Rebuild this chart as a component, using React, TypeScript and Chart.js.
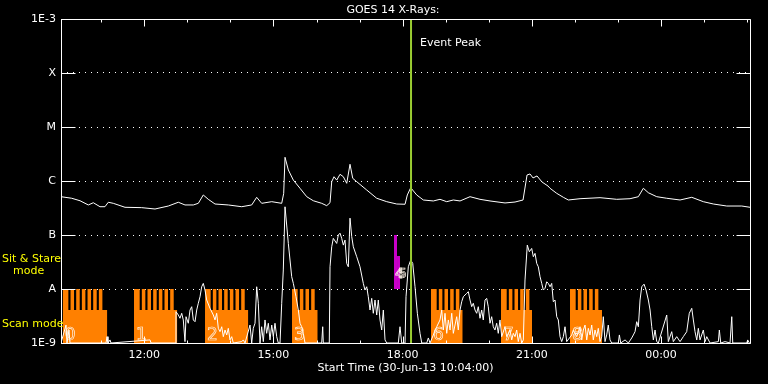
import React, { useEffect, useRef } from "react";
import { Chart, registerables } from "chart.js";
Chart.register(...registerables);

// time axis: clock hours (values > 24 are the next day)
const START = 10 + 4 / 60; // 10:04
const END = START + 16;
const HOUR_TICKS = [12, 15, 18, 21, 24];
const FLUX_TICKS = [1e-9, 1e-8, 1e-7, 1e-6, 1e-5, 1e-4, 1e-3];
const FLUX_LABELS = ["1E-9", "A", "B", "C", "M", "X", "1E-3"];
const EVENT_PEAK = 18.195;

// GOES long channel (1-8 Å) [hour, W/m²]
const LONG: [number, number][] = [
  [10.067, 5.12e-7], [10.315, 4.79e-7], [10.508, 4.31e-7], [10.701, 3.6e-7], [10.817, 3.96e-7],
  [10.972, 3.34e-7], [11.088, 3.34e-7], [11.165, 4.04e-7], [11.281, 3.86e-7], [11.553, 3.26e-7],
  [11.941, 3.21e-7], [12.25, 3.03e-7], [12.559, 3.44e-7], [12.791, 4.04e-7], [12.946, 3.6e-7],
  [13.139, 3.6e-7], [13.255, 3.86e-7], [13.371, 5.51e-7], [13.487, 4.58e-7], [13.643, 3.75e-7],
  [13.952, 3.6e-7], [14.263, 3.34e-7], [14.495, 3.6e-7], [14.611, 4.99e-7], [14.727, 3.86e-7],
  [14.96, 4.14e-7], [15.192, 3.86e-7], [15.238, 5.91e-7], [15.269, 2.75e-6], [15.346, 1.6e-6],
  [15.462, 1.04e-6], [15.617, 7.33e-7], [15.773, 5.12e-7], [15.926, 4.31e-7], [16.121, 3.86e-7],
  [16.237, 3.49e-7], [16.314, 3.96e-7], [16.353, 9.7e-7], [16.407, 1.2e-6], [16.469, 1.04e-6],
  [16.546, 1.33e-6], [16.623, 1.2e-6], [16.702, 9.06e-7], [16.778, 2.04e-6], [16.841, 1.12e-6],
  [16.934, 9.7e-7], [17.166, 6.81e-7], [17.398, 4.79e-7], [17.631, 4.14e-7], [17.863, 3.75e-7],
  [18.056, 3.71e-7], [18.109, 5.51e-7], [18.188, 7.52e-7], [18.327, 5.51e-7], [18.481, 4.45e-7],
  [18.713, 4.27e-7], [18.868, 4.58e-7], [19.024, 4.14e-7], [19.177, 4.45e-7], [19.333, 4.27e-7],
  [19.565, 5.12e-7], [19.797, 4.58e-7], [20.029, 4.27e-7], [20.378, 3.92e-7], [20.61, 4.08e-7],
  [20.796, 4.45e-7], [20.889, 1.29e-6], [20.958, 1.35e-6], [21.028, 1.14e-6], [21.121, 1.24e-6],
  [21.237, 9.57e-7], [21.376, 8.07e-7], [21.423, 7.33e-7], [21.578, 5.91e-7], [21.732, 4.99e-7],
  [21.848, 4.45e-7], [22.12, 4.7e-7], [22.584, 4.91e-7], [22.972, 4.58e-7], [23.281, 4.7e-7],
  [23.474, 5.12e-7], [23.59, 7.33e-7], [23.706, 6.06e-7], [23.901, 5.12e-7], [24.133, 4.79e-7],
  [24.442, 4.45e-7], [24.714, 4.99e-7], [24.983, 4.14e-7], [25.216, 3.75e-7], [25.527, 3.44e-7],
  [25.875, 3.44e-7], [26.067, 3.26e-7],
];

// GOES short channel (0.5-4 Å) [hour, W/m²]
const SHORT: [number, number][] = [
  [10.067, 1e-9], [10.183, 2.15e-9], [10.206, 1e-9], [10.252, 1.74e-9], [10.276, 1e-9],
  [11.112, 1e-9], [11.135, 1.31e-9], [11.158, 1e-9], [11.205, 1.14e-9], [11.228, 1e-9],
  [12.134, 1.14e-9], [12.157, 1e-9], [12.714, 1e-9], [12.737, 3.8e-9], [12.791, 3.3e-9],
  [12.83, 2.87e-9], [12.87, 3.55e-9], [12.907, 2.67e-9], [12.946, 1.06e-9], [12.97, 3.07e-9],
  [13.023, 2.32e-9], [13.063, 4.08e-9], [13.102, 4.7e-9], [13.139, 2.67e-9], [13.179, 2.48e-9],
  [13.218, 4.08e-9], [13.255, 5.44e-9], [13.295, 7.19e-9], [13.334, 1.1e-8], [13.371, 1.27e-8],
  [13.411, 9.57e-9], [13.45, 6.25e-9], [13.527, 4.39e-9], [13.604, 3.3e-9], [13.643, 2.67e-9],
  [13.682, 3.55e-9], [13.72, 1.87e-9], [13.759, 1.62e-9], [13.799, 2.0e-9], [13.836, 1.31e-9],
  [13.876, 1.74e-9], [13.915, 1.41e-9], [13.952, 1.87e-9], [13.991, 1.14e-9], [14.031, 1.31e-9],
  [14.068, 1e-9], [14.263, 1.06e-9], [14.3, 1.14e-9], [14.34, 1e-9], [14.456, 2.15e-9],
  [14.495, 1e-9], [14.532, 1.87e-9], [14.572, 2.32e-9], [14.611, 1.1e-8], [14.649, 5.44e-9],
  [14.688, 1e-9], [14.727, 2.0e-9], [14.765, 1.06e-9], [14.804, 2.67e-9], [14.843, 1.51e-9],
  [14.881, 2.32e-9], [14.92, 1.14e-9], [14.96, 2.15e-9], [14.997, 1.31e-9], [15.036, 2.32e-9],
  [15.076, 1.31e-9], [15.113, 1e-9], [15.153, 1e-9], [15.192, 5.44e-9], [15.229, 2.25e-8],
  [15.269, 3.33e-7], [15.346, 6.98e-8], [15.424, 1.69e-8], [15.462, 1.27e-8], [15.524, 7.19e-9],
  [15.578, 4.08e-9], [15.617, 2.32e-9], [15.656, 2.0e-9], [15.694, 1.51e-9], [15.733, 1e-9],
  [16.121, 1e-9], [16.144, 2.0e-9], [16.158, 1e-9], [16.297, 1e-9], [16.314, 2.58e-8],
  [16.353, 6.05e-8], [16.39, 8.67e-8], [16.469, 6.98e-8], [16.507, 1.0e-7], [16.546, 1.08e-7],
  [16.585, 8.67e-8], [16.623, 6.5e-8], [16.662, 8.05e-8], [16.702, 2.98e-8], [16.739, 2.58e-8],
  [16.778, 2.05e-7], [16.818, 9.31e-8], [16.855, 6.05e-8], [16.934, 3.96e-8], [17.01, 2.58e-8],
  [17.087, 1.27e-8], [17.126, 9.57e-9], [17.166, 1.1e-8], [17.203, 7.19e-9], [17.243, 4.08e-9],
  [17.282, 6.71e-9], [17.319, 3.55e-9], [17.359, 6.25e-9], [17.398, 3.3e-9], [17.435, 6.25e-9],
  [17.475, 2.67e-9], [17.514, 1.74e-9], [17.552, 4.08e-9], [17.591, 1.14e-9], [17.631, 1e-9],
  [17.9, 1e-9], [17.939, 2.0e-9], [17.979, 1e-9], [18.056, 1e-9], [18.079, 7.19e-9],
  [18.132, 2.58e-8], [18.188, 3.44e-8], [18.235, 2.98e-8], [18.288, 1.1e-8], [18.342, 3.55e-9],
  [18.404, 1.51e-9], [18.444, 1e-9], [18.56, 1e-9], [18.597, 1.24e-9], [18.636, 1e-9],
  [18.792, 2.0e-9], [18.868, 2.67e-9], [18.908, 4.08e-9], [18.945, 1.74e-9], [18.984, 3.55e-9],
  [19.024, 1.51e-9], [19.061, 2.67e-9], [19.101, 1.74e-9], [19.14, 3.55e-9], [19.177, 1.51e-9],
  [19.256, 3.07e-9], [19.293, 1.74e-9], [19.333, 4.08e-9], [19.372, 5.82e-9], [19.409, 7.19e-9],
  [19.449, 7.74e-9], [19.488, 8.3e-9], [19.525, 8.92e-9], [19.565, 6.25e-9], [19.604, 4.7e-9],
  [19.641, 5.44e-9], [19.681, 4.08e-9], [19.72, 3.55e-9], [19.757, 4.7e-9], [19.797, 2.87e-9],
  [19.836, 4.08e-9], [19.873, 2.67e-9], [19.913, 6.25e-9], [19.952, 6.71e-9], [19.989, 4.7e-9],
  [20.029, 2.32e-9], [20.068, 3.07e-9], [20.105, 2.0e-9], [20.145, 1.74e-9], [20.184, 2.32e-9],
  [20.221, 1.51e-9], [20.261, 2.67e-9], [20.3, 1.31e-9], [20.378, 2.0e-9], [20.417, 1.31e-9],
  [20.494, 1.74e-9], [20.533, 1.14e-9], [20.57, 1.51e-9], [20.61, 1.31e-9], [20.649, 1.74e-9],
  [20.686, 1.06e-9], [20.726, 1.51e-9], [20.765, 1e-9], [20.803, 1.14e-9], [20.842, 1.47e-8],
  [20.895, 6.5e-8], [20.942, 4.9e-8], [20.997, 5.64e-8], [21.035, 3.96e-8], [21.075, 4.57e-8],
  [21.114, 2.98e-8], [21.151, 2.58e-8], [21.191, 1.69e-8], [21.23, 1.27e-8], [21.267, 9.57e-9],
  [21.307, 1.03e-8], [21.346, 1.36e-8], [21.383, 1.27e-8], [21.423, 1.1e-8], [21.462, 1.27e-8],
  [21.499, 5.82e-9], [21.539, 6.25e-9], [21.578, 3.07e-9], [21.615, 2.67e-9], [21.655, 1.31e-9],
  [21.694, 1.06e-9], [21.732, 1.31e-9], [21.771, 2.0e-9], [21.81, 1.06e-9], [21.927, 1.41e-9],
  [21.964, 1.74e-9], [22.043, 1.31e-9], [22.12, 2.0e-9], [22.159, 1.14e-9], [22.196, 1.74e-9],
  [22.236, 2.15e-9], [22.275, 1.14e-9], [22.312, 1.87e-9], [22.352, 1.41e-9], [22.391, 2.15e-9],
  [22.428, 1.14e-9], [22.468, 1.74e-9], [22.507, 1.31e-9], [22.544, 1.87e-9], [22.584, 1.06e-9],
  [22.623, 1.31e-9], [22.66, 3.07e-9], [22.7, 1.06e-9], [22.739, 1.41e-9], [22.776, 2.15e-9],
  [22.816, 1.14e-9], [22.855, 1e-9], [23.009, 1e-9], [23.033, 1.41e-9], [23.065, 1e-9],
  [23.165, 1.14e-9], [23.242, 1e-9], [23.32, 1.24e-9], [23.358, 1.41e-9], [23.397, 1.62e-9],
  [23.436, 2.48e-9], [23.474, 2.0e-9], [23.513, 6.25e-9], [23.553, 1.1e-8], [23.606, 1.23e-8],
  [23.653, 9.57e-9], [23.706, 6.25e-9], [23.746, 4.08e-9], [23.785, 2.0e-9], [23.822, 1.14e-9],
  [23.862, 1.74e-9], [23.901, 1.06e-9], [23.938, 1e-9], [24.133, 3.3e-9], [24.17, 1.06e-9],
  [24.249, 1.62e-9], [24.286, 1.06e-9], [24.365, 1.31e-9], [24.442, 1.06e-9], [24.518, 1.31e-9],
  [24.597, 1.62e-9], [24.657, 3.55e-9], [24.714, 4.39e-9], [24.751, 2.67e-9], [24.79, 1.62e-9],
  [24.83, 1.14e-9], [24.867, 1.87e-9], [24.906, 1.14e-9], [24.983, 1.74e-9], [25.023, 1.06e-9],
  [25.062, 1.31e-9], [25.139, 1e-9], [25.332, 1.06e-9], [25.355, 1.74e-9], [25.387, 1e-9],
  [25.487, 1.06e-9], [25.603, 1e-9], [25.643, 3.07e-9], [25.666, 1e-9], [25.991, 1e-9],
  [26.014, 1.14e-9], [26.051, 1e-9],
];

// scan-mode blocks
const SCAN_START = [10.106, 11.762, 13.411, 15.431, 18.659, 20.285, 21.887];
const SCAN_END = [11.142, 12.767, 14.416, 16.028, 19.395, 21.005, 22.63];
const SCAN_STEPS = [7, 7, 7, 4, 5, 5, 5];
const SCAN_LABELS = ["0", "1", "2", "3", "6", "7", "8"];
const STEP_PERIOD = 0.1317;
const STEP_GAP = 0.05;
const SCAN_TOP = 1e-8;
const SCAN_BASE = 4.08e-9;
const FLOOR = 1e-9;

// sit & stare dwells
const STARE_START = [17.8, 17.87];
const STARE_END = [17.87, 17.939];
const STARE_PEAK = [1e-7, 4.08e-8];
const STARE_BASE = 1e-8;
const STARE_LABELS = ["4", "5"];

const FONT = '"DejaVu Sans", sans-serif';

function scanOutline(s: number, e: number, n: number) {
  const pts = [{ x: s, y: FLOOR }, { x: s, y: SCAN_TOP }];
  let t = s + STEP_PERIOD;
  for (let k = 1; k < n; k++) {
    pts.push({ x: t, y: SCAN_TOP }, { x: t, y: SCAN_BASE }, { x: t + STEP_GAP, y: SCAN_BASE }, { x: t + STEP_GAP, y: SCAN_TOP });
    t += STEP_PERIOD;
  }
  pts.push({ x: s + n * STEP_PERIOD, y: SCAN_TOP }, { x: s + n * STEP_PERIOD, y: SCAN_BASE }, { x: e, y: SCAN_BASE }, { x: e, y: FLOOR });
  return pts;
}

const decor = {
  id: "decor",
  afterDatasetsDraw(chart: any) {
    const { ctx, chartArea: a, scales } = chart;
    const xs = scales.x;
    const ys = scales.y;
    const L = Math.round(a.left) + 0.5;
    const R = Math.round(a.right) + 0.5;
    const T = Math.round(a.top) + 0.5;
    const B = Math.round(a.bottom) + 0.5;
    ctx.save();
    ctx.strokeStyle = "#fff";
    ctx.lineWidth = 1;
    ctx.beginPath();
    ctx.rect(L, T, R - L, B - T);
    FLUX_TICKS.forEach((v) => {
      const py = Math.round(ys.getPixelForValue(v)) + 0.5;
      ctx.moveTo(L, py); ctx.lineTo(L + 14, py);
      ctx.moveTo(R - 14, py); ctx.lineTo(R, py);
    });
    for (let h = Math.ceil(START); h <= END; h++) {
      const px = Math.round(xs.getPixelForValue(h)) + 0.5;
      const len = h % 3 === 0 ? 7 : 3;
      ctx.moveTo(px, T); ctx.lineTo(px, T + len);
      ctx.moveTo(px, B); ctx.lineTo(px, B - len);
    }
    ctx.stroke();

    // block numbers (outlined digits)
    ctx.font = `17px ${FONT}`;
    ctx.textAlign = "left";
    ctx.textBaseline = "alphabetic";
    ctx.lineWidth = 0.7;
    ctx.strokeStyle = "#fff4e8";
    SCAN_START.forEach((s, i) => {
      ctx.strokeText(SCAN_LABELS[i], xs.getPixelForValue(s) + 2, 340);
    });
    ctx.font = `14px ${FONT}`;
    STARE_START.forEach((s, i) => {
      ctx.strokeText(STARE_LABELS[i], xs.getPixelForValue(s) + 1, 278);
    });

    // texts
    ctx.fillStyle = "#fff";
    ctx.font = `11px ${FONT}`;
    ctx.textBaseline = "middle";
    ctx.textAlign = "center";
    ctx.fillText("GOES 14 X-Rays:", 393, 10);
    ctx.textAlign = "left";
    ctx.fillText("Event Peak", xs.getPixelForValue(EVENT_PEAK) + 9, 43);
    ctx.fillStyle = "#ffff00";
    ctx.fillText("Sit & Stare", 2, 259);
    ctx.fillText("mode", 13, 271);
    ctx.fillText("Scan mode", 2, 324);
    ctx.restore();
  },
};

export default function App() {
  const ref = useRef<HTMLCanvasElement | null>(null);
  useEffect(() => {
    if (!ref.current) return;
    const datasets: any[] = [
      {
        data: [{ x: EVENT_PEAK, y: 1e-9 }, { x: EVENT_PEAK, y: 1e-3 }],
        borderColor: "#9acd32", borderWidth: 2, pointRadius: 0, order: 0,
      },
      {
        data: LONG.map(([x, y]) => ({ x, y })),
        borderColor: "#ffffff", borderWidth: 1, pointRadius: 0, order: 1,
      },
      {
        data: SHORT.map(([x, y]) => ({ x, y })),
        borderColor: "#ffffff", borderWidth: 1, pointRadius: 0, order: 1,
      },
    ];
    STARE_START.forEach((s, i) => {
      datasets.push({
        data: [
          { x: s, y: STARE_BASE }, { x: s, y: STARE_PEAK[i] },
          { x: STARE_END[i], y: STARE_PEAK[i] }, { x: STARE_END[i], y: STARE_BASE },
        ],
        borderColor: "rgba(0,0,0,0)", borderWidth: 0, backgroundColor: "#c800c8",
        fill: { value: STARE_BASE }, pointRadius: 0, order: 2,
      });
    });
    SCAN_START.forEach((s, i) => {
      datasets.push({
        data: scanOutline(s, SCAN_END[i], SCAN_STEPS[i]),
        borderColor: "rgba(0,0,0,0)", borderWidth: 0, backgroundColor: "#ff8000",
        fill: "start", pointRadius: 0, order: 3,
      });
    });

    const chart = new Chart(ref.current, {
      type: "line",
      data: { datasets },
      options: {
        animation: false,
        responsive: false,
        events: [],
        layout: { padding: { left: 0, right: 18, top: 19, bottom: 0 } },
        plugins: { legend: { display: false }, tooltip: { enabled: false } },
        elements: { line: { tension: 0 } },
        scales: {
          x: {
            type: "linear",
            min: START,
            max: END,
            grid: { display: false, drawTicks: false },
            border: { display: false },
            afterBuildTicks: (s: any) => { s.ticks = HOUR_TICKS.map((v) => ({ value: v })); },
            afterFit: (s: any) => { s.height = 41; },
            ticks: {
              color: "#fff",
              font: { family: FONT, size: 11 },
              padding: 6,
              maxRotation: 0,
              autoSkip: false,
              callback: (v: any) => `${String(Number(v) % 24).padStart(2, "0")}:00`,
            },
            title: {
              display: true,
              text: "Start Time (30-Jun-13 10:04:00)",
              color: "#fff",
              font: { family: FONT, size: 11 },
              padding: { top: 0, bottom: 9 },
            },
          },
          y: {
            type: "logarithmic",
            min: 1e-9,
            max: 1e-3,
            grid: { color: "#ffffff", lineWidth: 1, drawTicks: false },
            border: { display: false, dash: [1, 5] },
            afterBuildTicks: (s: any) => { s.ticks = FLUX_TICKS.map((v) => ({ value: v })); },
            afterFit: (s: any) => { s.width = 61; },
            ticks: {
              color: "#fff",
              font: { family: FONT, size: 11 },
              padding: 5,
              autoSkip: false,
              callback: (v: any) => {
                const i = FLUX_TICKS.findIndex((t) => Math.abs(Math.log10(t) - Math.log10(Number(v))) < 0.01);
                return i >= 0 ? FLUX_LABELS[i] : "";
              },
            },
          },
        },
      },
      plugins: [decor],
    } as any);
    return () => chart.destroy();
  }, []);

  return (
    <div style={{ position: "fixed", left: 0, top: 0, width: 768, height: 384, background: "#000" }}>
      <canvas ref={ref} width={768} height={384} style={{ display: "block" }} />
    </div>
  );
}
